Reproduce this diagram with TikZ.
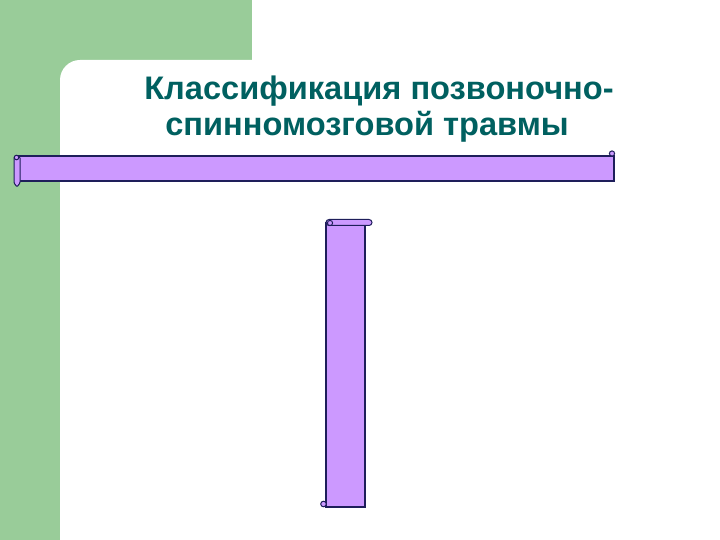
\documentclass[tikz,border=0pt]{standalone}
\usepackage{fontspec}
\setmainfont{Liberation Sans}
\usepackage{xcolor}
\usepackage{tikz}
\usetikzlibrary{positioning,calc}
\definecolor{slidegreen}{RGB}{153,204,153}
\definecolor{titleteal}{RGB}{0,96,96}
\definecolor{scrollfill}{RGB}{204,153,255}
\definecolor{scrollline}{RGB}{30,30,90}
\tikzset{
    scrollbody/.style={fill=scrollfill, draw=scrollline, line width=1.2pt},
    scrollcurl/.style={fill=scrollfill, draw=scrollline, line width=1pt},
    titletext/.style={font=\bfseries\fontsize{32.6}{38}\selectfont, text=titleteal, inner sep=0pt, anchor=base}
}
\begin{document}
\begin{tikzpicture}[x=1pt, y=-1pt]
        % Background
        \useasboundingbox (0,0) rectangle (720,540);
        \fill[slidegreen] (0,0) rectangle (720,540);
        \fill[white] (60,540) -- (60,80) arc[start angle=180, end angle=270, radius=20]
            -- (252,60) -- (252,0) -- (720,0) -- (720,540) -- cycle;

        % Title
        \node[titletext] (title1) at (379,100) {Классификация позвоночно-};
        \node[titletext] (title2) at (367,136) {спинномозговой травмы};

        % Horizontal scroll
        \draw[scrollbody] (18,156) rectangle (614,181);
        \draw[scrollcurl, rounded corners=1pt] (14,157) -- (14,183) -- (17,187) -- (20,183) -- (20,157) -- cycle;
        \draw[scrollcurl] (16.5,157.5) circle (2.3);
        \draw[scrollcurl] (612,153.5) circle (2.6);

        % Vertical scroll
        \draw[scrollbody] (326,223) rectangle (365,507);
        \draw[scrollcurl, rounded corners=3pt] (326,219.5) rectangle (372,225.5);
        \draw[scrollcurl] (330,223) circle (2.6);
        \draw[scrollcurl] (323.5,504) circle (2.8);
    \end{tikzpicture}
\end{document}
